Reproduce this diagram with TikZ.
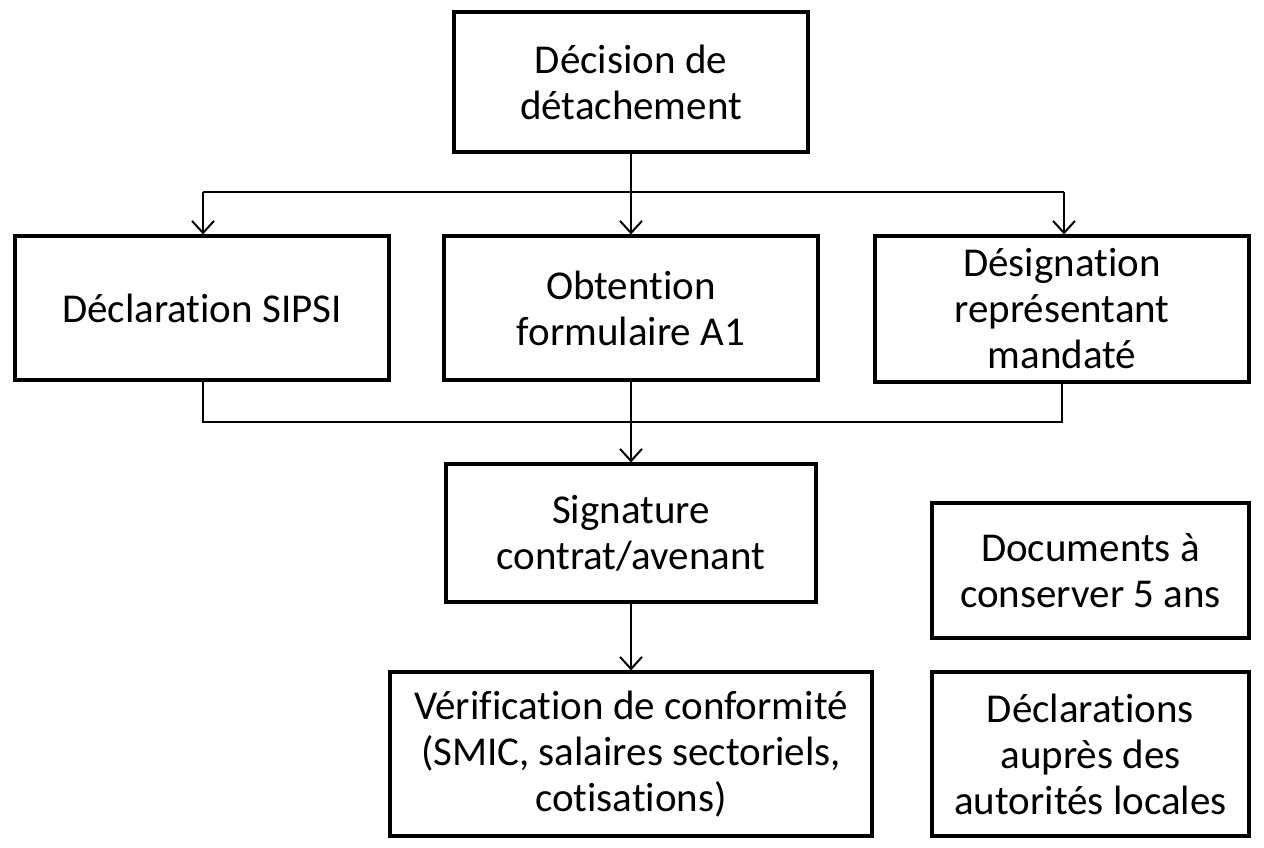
\documentclass[tikz,border=0pt]{standalone}
\usepackage{fontspec}
\setmainfont{Carlito}[RawFeature=-liga]
\usetikzlibrary{arrows.meta}
\begin{document}
\begin{tikzpicture}[x=1pt,y=-1pt,
  box/.style={draw,line width=3.2pt,align=center,font=\fontsize{41}{46}\selectfont},
  ln/.style={line width=2pt},
  ar/.style={ln,-{Straight Barb[length=12pt,width=22pt,line width=2pt]}}]
\useasboundingbox (0,0) rectangle (1264,848);
\fill[white] (0,0) rectangle (1264,848);
\newcommand{\bx}[6]{\node[box,minimum width=#4-#2,minimum height=#5-#3] (#1) at ({(#2+#4)/2},{(#3+#5)/2}) {#6};}
\bx{dec}{454}{12}{808}{152}{Décision de\\détachement}
\bx{sip}{15}{236}{389}{380}{Déclaration SIPSI}
\bx{obt}{444}{236}{818}{380}{Obtention\\formulaire A1}
\bx{des}{875}{236}{1249}{382}{Désignation\\représentant\\mandaté}
\bx{sig}{446}{464}{816}{602}{Signature\\contrat/avenant}
\bx{ver}{390}{672}{872}{836}{Vérification de conformité\\(SMIC, salaires sectoriels,\\cotisations)}
\bx{doc}{932}{503}{1249}{638}{Documents à\\conserver 5 ans}
\bx{dcl}{932}{672}{1249}{836}{Déclarations\\auprès des\\autorités locales}
\coordinate (t1) at (631,192);
\coordinate (tl) at (203,192);
\coordinate (tr) at (1064,192);
\draw[ln] (dec.south) -- (t1);
\draw[ln] (tl) -- (tr);
\draw[ar] (tl) -- (tl|-sip.north);
\draw[ar] (t1) -- (obt.north);
\draw[ar] (tr) -- (tr|-des.north);
\coordinate (bl) at (203,422);
\coordinate (br) at (1062,422);
\draw[ln] (bl|-sip.south) -- (bl) -- (br) -- (br|-des.south);
\draw[ar] (obt.south) -- (sig.north);
\draw[ar] (sig.south) -- (sig.south|-ver.north);
\end{tikzpicture}
\end{document}
